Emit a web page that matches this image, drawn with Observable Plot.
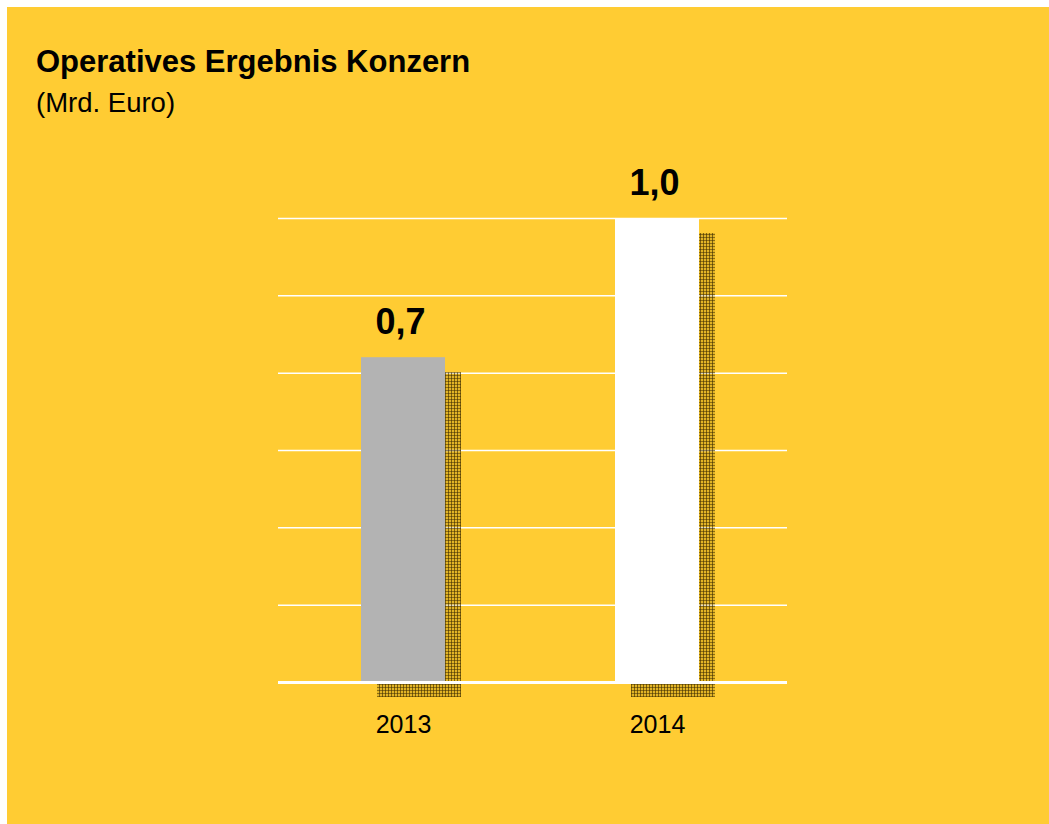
<!DOCTYPE html>
<html>
<head>
<meta charset="utf-8">
<script src="https://cdn.jsdelivr.net/npm/d3@7"></script>
<script src="https://cdn.jsdelivr.net/npm/@observablehq/plot@0.6"></script>
<style>
  html, body { margin: 0; padding: 0; background: #ffffff; }
  body { width: 1049px; height: 824px; position: relative; overflow: hidden; font-family: "Liberation Sans", Arial, sans-serif; }
  #panel { position: absolute; left: 7px; top: 7px; right: 0; bottom: 0; background: #FFCC33; }
  #title { position: absolute; left: 36px; top: 46px; font-size: 31px; line-height: 31px; font-weight: bold; color: #000; white-space: nowrap; }
  #subtitle { position: absolute; left: 36px; top: 89px; font-size: 27.5px; line-height: 27.5px; color: #000; white-space: nowrap; }
  #chart { position: absolute; left: 0; top: 0; }
</style>
</head>
<body>
<div id="panel"></div>
<div id="title">Operatives Ergebnis Konzern</div>
<div id="subtitle">(Mrd. Euro)</div>
<div id="chart"></div>
<script>
const years = ["2013", "2014"];
const values = [0.7, 1.0];
const labels = ["0,7", "1,0"];
const barColors = ["#B3B3B3", "#FFFFFF"];
const gridValues = [0, 1/6, 2/6, 3/6, 4/6, 5/6, 1];

const data = years.map((y, i) => ({year: y, value: values[i], label: labels[i], color: barColors[i]}));

const plot = Plot.plot({
  width: 1049,
  height: 824,
  marginLeft: 278,
  marginRight: 262,
  marginTop: 218,
  marginBottom: 142,
  style: {background: "transparent", fontFamily: "'Liberation Sans', Arial, sans-serif", color: "#000", overflow: "visible"},
  x: {domain: years, range: [276, 785], paddingInner: 0.669, paddingOuter: 0.335, axis: null},
  y: {domain: [0, 1], axis: null},
  marks: [
    Plot.ruleY(gridValues.slice(1), {stroke: "#FFFFFF", strokeWidth: 1.5}),
    Plot.barY(data, {x: "year", y: "value", fill: "url(#shadowPat)", dx: 16, dy: 15}),
    Plot.barY(data, {x: "year", y: "value", fill: "color"}),
    Plot.ruleY([0], {stroke: "#FFFFFF", strokeWidth: 3}),
    Plot.text(data, {x: "year", y: "value", text: "label", fontSize: 36, fontWeight: "bold", fill: "#000", dx: -3, dy: -35.5, textAnchor: "middle"}),
    Plot.axisX({tickSize: 0, tickPadding: 33, fontSize: 25, fill: "#000", label: null})
  ]
});

const ns = "http://www.w3.org/2000/svg";
const defs = document.createElementNS(ns, "defs");
const pat = document.createElementNS(ns, "pattern");
pat.setAttribute("id", "shadowPat");
pat.setAttribute("patternUnits", "userSpaceOnUse");
pat.setAttribute("width", "3");
pat.setAttribute("height", "3");
const base = document.createElementNS(ns, "rect");
base.setAttribute("width", "3"); base.setAttribute("height", "3");
base.setAttribute("fill", "#8a6a00"); base.setAttribute("fill-opacity", "0.25");
const v = document.createElementNS(ns, "rect");
v.setAttribute("width", "1"); v.setAttribute("height", "3");
v.setAttribute("fill", "#3a2a00"); v.setAttribute("fill-opacity", "0.6");
const h = document.createElementNS(ns, "rect");
h.setAttribute("width", "3"); h.setAttribute("height", "1");
h.setAttribute("fill", "#3a2a00"); h.setAttribute("fill-opacity", "0.5");
pat.appendChild(base); pat.appendChild(v); pat.appendChild(h);
defs.appendChild(pat);
plot.insertBefore(defs, plot.firstChild);

document.getElementById("chart").appendChild(plot);
</script>
</body>
</html>
